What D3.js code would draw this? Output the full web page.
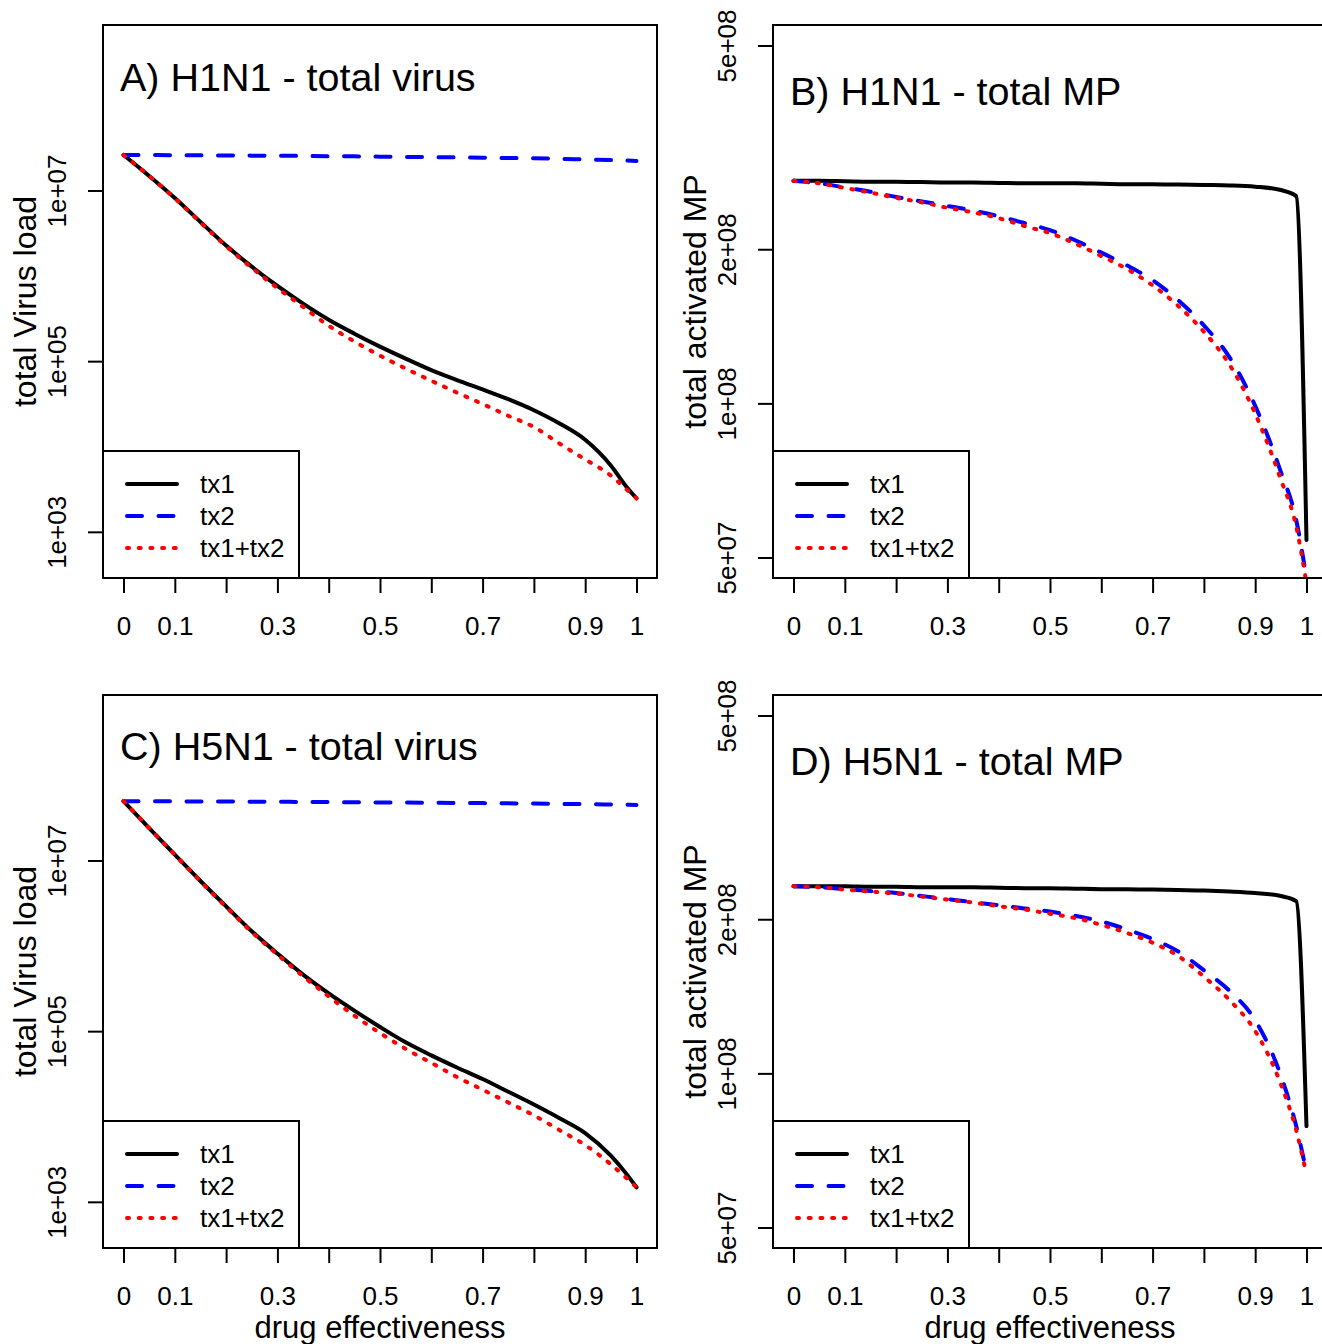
<!DOCTYPE html>
<html>
<head>
<meta charset="utf-8">
<script src="https://cdnjs.cloudflare.com/ajax/libs/d3/7.8.5/d3.min.js"></script>
<style>
    body { margin: 0; background: #fff; }
    svg { display: block; font-family: "Liberation Sans", Arial, sans-serif; }
</style>
</head>
<body>
<div id="chart"></div>
<script>
/*
    Four panels: total virus and total activated MP vs drug effectiveness,
    for H1N1 (top) and H5N1 (bottom). Three treatments per panel.
*/

// x grid (drug effectiveness)
var effectiveness = [0, 0.05, 0.1, 0.15, 0.2, 0.25, 0.3, 0.35, 0.4, 0.45, 0.5,
    0.55, 0.6, 0.65, 0.7, 0.75, 0.8, 0.85, 0.9, 0.95, 0.98, 1];

var xTicks = [0, 0.1, 0.2, 0.3, 0.4, 0.5, 0.6, 0.7, 0.8, 0.9, 1];
var xTickLabels = ["0", "0.1", "", "0.3", "", "0.5", "", "0.7", "", "0.9", "1"];
var virusTicks = [1e3, 1e5, 1e7];
var mpTicks = [5e7, 1e8, 2e8, 5e8];
var virusLim = [5e2, 5e8];
var mpLim = [5e7, 5e8];

var seriesNames = ["tx1", "tx2", "tx1+tx2"];
var panelTitles = ["A) H1N1 - total virus", "B) H1N1 - total MP",
    "C) H5N1 - total virus", "D) H5N1 - total MP"];
var virusLabel = "total Virus load";
var mpLabel = "total activated MP";
var xLabel = "drug effectiveness";

// H1N1 - total virus
var h1n1VirusTx1 = [2.61e7, 1.48e7, 8.17e6, 4.28e6, 2.26e6, 1.28e6, 7.60e5, 4.72e5, 3.06e5, 2.10e5, 1.48e5,
    1.07e5, 7.85e4, 6.00e4, 4.66e4, 3.58e4, 2.66e4, 1.86e4, 1.20e4, 6.00e3, 3.40e3, 2.47e3];
var h1n1VirusTx2 = [2.61e7, 2.60e7, 2.59e7, 2.58e7, 2.57e7, 2.56e7, 2.55e7, 2.54e7, 2.52e7, 2.51e7, 2.49e7,
    2.47e7, 2.46e7, 2.44e7, 2.42e7, 2.40e7, 2.38e7, 2.35e7, 2.31e7, 2.27e7, 2.24e7, 2.22e7];
var h1n1VirusBoth = [2.61e7, 1.48e7, 8.10e6, 4.22e6, 2.22e6, 1.24e6, 7.19e5, 4.32e5, 2.60e5, 1.70e5, 1.16e5,
    8.20e4, 5.90e4, 4.28e4, 3.15e4, 2.29e4, 1.69e4, 1.08e4, 7.05e3, 4.57e3, 3.16e3, 2.47e3];

// H1N1 - total MP
var h1n1MpTx1 = [2.72e8, 2.72e8, 2.715e8, 2.71e8, 2.71e8, 2.705e8, 2.70e8, 2.70e8, 2.695e8, 2.69e8, 2.69e8,
    2.69e8, 2.685e8, 2.68e8, 2.68e8, 2.675e8, 2.67e8, 2.665e8, 2.65e8, 2.61e8, 2.54e8, 5.41e7];
var h1n1MpTx2 = [2.72e8, 2.69e8, 2.64e8, 2.59e8, 2.53e8, 2.48e8, 2.43e8, 2.38e8, 2.32e8, 2.25e8, 2.18e8,
    2.08e8, 1.97e8, 1.86e8, 1.74e8, 1.59e8, 1.42e8, 1.23e8, 9.89e7, 7.35e7, 5.92e7, 4.55e7];
var h1n1MpBoth = [2.72e8, 2.69e8, 2.635e8, 2.58e8, 2.52e8, 2.47e8, 2.41e8, 2.36e8, 2.30e8, 2.22e8, 2.15e8,
    2.05e8, 1.94e8, 1.83e8, 1.70e8, 1.55e8, 1.38e8, 1.19e8, 9.55e7, 7.10e7, 5.75e7, 4.45e7];

// H5N1 - total virus
var h5n1VirusTx1 = [4.95e7, 2.40e7, 1.17e7, 5.75e6, 2.90e6, 1.48e6, 8.11e5, 4.60e5, 2.77e5, 1.74e5, 1.12e5,
    7.40e4, 5.20e4, 3.75e4, 2.75e4, 1.95e4, 1.38e4, 9.55e3, 6.40e3, 3.48e3, 2.14e3, 1.48e3];
var h5n1VirusTx2 = [4.95e7, 4.94e7, 4.93e7, 4.91e7, 4.90e7, 4.88e7, 4.87e7, 4.85e7, 4.83e7, 4.81e7, 4.79e7,
    4.77e7, 4.75e7, 4.72e7, 4.70e7, 4.67e7, 4.64e7, 4.61e7, 4.57e7, 4.53e7, 4.50e7, 4.47e7];
var h5n1VirusBoth = [4.95e7, 2.40e7, 1.17e7, 5.70e6, 2.85e6, 1.45e6, 7.90e5, 4.40e5, 2.55e5, 1.52e5, 9.50e4,
    6.20e4, 4.25e4, 2.90e4, 2.06e4, 1.46e4, 1.03e4, 6.92e3, 4.62e3, 2.75e3, 1.91e3, 1.48e3];

// H5N1 - total MP
var h5n1MpTx1 = [2.32e8, 2.32e8, 2.32e8, 2.315e8, 2.315e8, 2.31e8, 2.31e8, 2.31e8, 2.305e8, 2.30e8, 2.30e8,
    2.295e8, 2.29e8, 2.29e8, 2.285e8, 2.28e8, 2.275e8, 2.265e8, 2.25e8, 2.22e8, 2.17e8, 7.89e7];
var h5n1MpTx2 = [2.32e8, 2.31e8, 2.29e8, 2.27e8, 2.25e8, 2.22e8, 2.19e8, 2.16e8, 2.13e8, 2.10e8, 2.07e8,
    2.03e8, 1.98e8, 1.91e8, 1.83e8, 1.73e8, 1.59e8, 1.45e8, 1.27e8, 9.90e7, 7.89e7, 6.41e7];
var h5n1MpBoth = [2.32e8, 2.31e8, 2.285e8, 2.265e8, 2.245e8, 2.215e8, 2.185e8, 2.155e8, 2.12e8, 2.09e8, 2.05e8,
    2.01e8, 1.95e8, 1.88e8, 1.80e8, 1.695e8, 1.545e8, 1.39e8, 1.21e8, 9.53e7, 7.74e7, 6.35e7];

/* line styles of the three treatments */
var styles = [
    {color: "#000000", dash: null},
    {color: "#0000FF", dash: "15,16.5"},
    {color: "#FF0000", dash: "2,9.7"}
];

var panels = [
    {ox: 0,   oy: 0,   title: panelTitles[0], titleY: 91,  ylab: virusLabel, lim: virusLim, ticks: virusTicks,
        series: [h1n1VirusTx1, h1n1VirusTx2, h1n1VirusBoth], xlab: false},
    {ox: 670, oy: 0,   title: panelTitles[1], titleY: 105, ylab: mpLabel, lim: mpLim, ticks: mpTicks,
        series: [h1n1MpTx1, h1n1MpTx2, h1n1MpBoth], xlab: false},
    {ox: 0,   oy: 670, title: panelTitles[2], titleY: 90,  ylab: virusLabel, lim: virusLim, ticks: virusTicks,
        series: [h5n1VirusTx1, h5n1VirusTx2, h5n1VirusBoth], xlab: true},
    {ox: 670, oy: 670, title: panelTitles[3], titleY: 105, ylab: mpLabel, lim: mpLim, ticks: mpTicks,
        series: [h5n1MpTx1, h5n1MpTx2, h5n1MpBoth], xlab: true}
];

var box = {left: 103, right: 657, top: 25, bottom: 578};

var svg = d3.select('#chart').append('svg')
    .attr('width', 1322)
    .attr('height', 1344);

// "1e+07" style labels like R
function sci(v) {
    var parts = v.toExponential(0).split('e');
    var e = parseInt(parts[1], 10);
    var s = Math.abs(e) < 10 ? '0' + Math.abs(e) : '' + Math.abs(e);
    return parts[0] + 'e' + (e < 0 ? '-' : '+') + s;
}

panels.forEach(function(p, i) {
    var g = svg.append('g')
        .attr('transform', 'translate(' + p.ox + ',' + p.oy + ')');

    // R style 4% padding on both axes
    var x = d3.scaleLinear().domain([-0.04, 1.04]).range([box.left, box.right]);
    var lo = Math.log10(p.lim[0]), hi = Math.log10(p.lim[1]), pad = (hi - lo) * 0.04;
    var y = d3.scaleLog()
        .domain([Math.pow(10, lo - pad), Math.pow(10, hi + pad)])
        .range([box.bottom, box.top]);

    g.append('clipPath').attr('id', 'clip' + i)
        .append('rect')
        .attr('x', box.left).attr('y', box.top)
        .attr('width', box.right - box.left).attr('height', box.bottom - box.top);

    /* x axis */
    var xAxis = d3.axisBottom(x)
        .tickValues(xTicks)
        .tickSize(15)
        .tickFormat(function(d, k) { return xTickLabels[k]; });
    var gx = g.append('g')
        .attr('transform', 'translate(0,' + box.bottom + ')')
        .call(xAxis);
    gx.select('.domain').remove();
    gx.selectAll('line').attr('stroke', '#000').attr('stroke-width', 2);
    gx.selectAll('text')
        .attr('y', 57).attr('dy', null)
        .attr('fill', '#000')
        .style('font-size', '26px')
        .style('font-family', '"Liberation Sans", Arial, sans-serif');

    /* y axis */
    var yAxis = d3.axisLeft(y)
        .tickValues(p.ticks)
        .tickSize(15)
        .tickFormat(sci);
    var gy = g.append('g')
        .attr('transform', 'translate(' + box.left + ',0)')
        .call(yAxis);
    gy.select('.domain').remove();
    gy.selectAll('line').attr('stroke', '#000').attr('stroke-width', 2);
    gy.selectAll('text')
        .attr('x', 0).attr('y', -37).attr('dy', null)
        .attr('transform', 'rotate(-90)')
        .attr('text-anchor', 'middle')
        .attr('fill', '#000')
        .style('font-size', '26px')
        .style('font-family', '"Liberation Sans", Arial, sans-serif');

    /* lines */
    var line = d3.line()
        .x(function(d) { return x(d[0]); })
        .y(function(d) { return y(d[1]); })
        .curve(d3.curveMonotoneX);

    var lines = g.append('g').attr('clip-path', 'url(#clip' + i + ')');
    p.series.forEach(function(vals, k) {
        var pts = effectiveness.map(function(e, j) { return [e, vals[j]]; });
        lines.append('path')
            .datum(pts)
            .attr('fill', 'none')
            .attr('stroke', styles[k].color)
            .attr('stroke-width', 4)
            .attr('stroke-linecap', 'round')
            .attr('stroke-linejoin', 'round')
            .attr('stroke-dasharray', styles[k].dash)
            .attr('d', line);
    });

    /* plot box */
    g.append('rect')
        .attr('x', box.left).attr('y', box.top)
        .attr('width', box.right - box.left).attr('height', box.bottom - box.top)
        .attr('fill', 'none').attr('stroke', '#000').attr('stroke-width', 2);

    /* legend */
    var lg = g.append('g');
    lg.append('rect')
        .attr('x', box.left).attr('y', 451)
        .attr('width', 196).attr('height', box.bottom - 451)
        .attr('fill', '#fff').attr('stroke', '#000').attr('stroke-width', 2);
    seriesNames.forEach(function(name, k) {
        var ly = 484 + k * 32;
        lg.append('line')
            .attr('x1', 127).attr('x2', 177).attr('y1', ly).attr('y2', ly)
            .attr('stroke', styles[k].color)
            .attr('stroke-width', 4)
            .attr('stroke-linecap', 'round')
            .attr('stroke-dasharray', styles[k].dash);
        lg.append('text')
            .attr('x', 200).attr('y', ly + 9)
            .style('font-size', '26px')
            .text(name);
    });

    /* titles */
    g.append('text')
        .attr('x', 120).attr('y', p.titleY)
        .style('font-size', '39.5px')
        .text(p.title);

    g.append('text')
        .attr('transform', 'translate(36,' + ((box.top + box.bottom) / 2) + ') rotate(-90)')
        .attr('text-anchor', 'middle')
        .style('font-size', '32px')
        .text(p.ylab);

    if (p.xlab) {
        g.append('text')
            .attr('x', (box.left + box.right) / 2).attr('y', 668)
            .attr('text-anchor', 'middle')
            .style('font-size', '31px')
            .text(xLabel);
    }
});
</script>
</body>
</html>
